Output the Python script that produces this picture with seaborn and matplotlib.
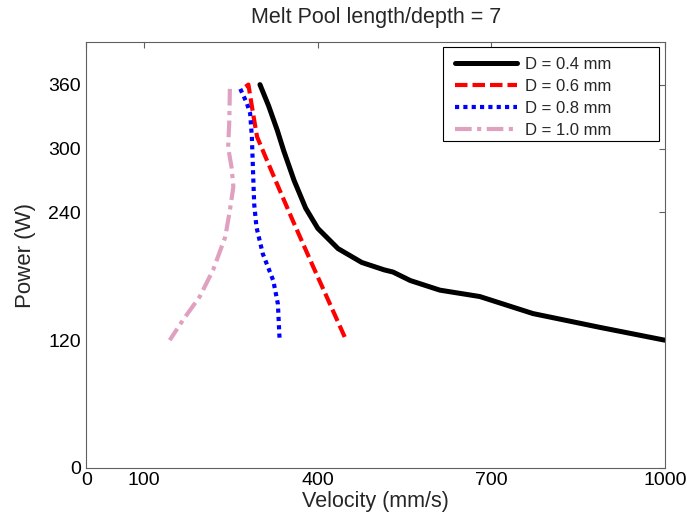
import matplotlib
matplotlib.use("Agg")
import matplotlib.pyplot as plt
from matplotlib.patches import Rectangle
import seaborn as sns
import pandas as pd

# ---- data ----
p_04 = [360, 340, 317, 298, 270, 244, 225, 206, 193, 186, 184, 176, 167, 161, 145, 132, 120]
v_04 = [300, 315, 330, 341, 359, 379, 400, 435, 476, 515, 530, 560, 611, 680, 772, 888, 1000]

p_06 = [358, 360, 333, 311, 289, 261, 232, 189, 154, 120]
v_06 = [275, 280, 288, 295, 312, 334, 357, 392, 421, 449]

p_08 = [356, 343, 333, 311, 279, 248, 226, 201, 176, 154, 120]
v_08 = [266, 277, 283, 286, 288, 290, 294, 305, 323, 331, 334]

p_10 = [356, 326, 301, 282, 264, 242, 217, 186, 161, 139, 120]
v_10 = [248, 247, 245, 251, 254, 248, 240, 219, 196, 167, 144]

labels = ["D = 0.4 mm", "D = 0.6 mm", "D = 0.8 mm", "D = 1.0 mm"]
x_ticks = [0, 100, 400, 700, 1000]
y_ticks = [0, 120, 240, 300, 360]

sns.set_style("white")
plt.rcParams["font.family"] = ["Liberation Sans", "DejaVu Sans"]

fig = plt.figure(figsize=(6.87, 5.24), dpi=100)
ax = fig.add_axes([0.1258, 0.1069, 0.8420, 0.8129])

series = [(v_04, p_04), (v_06, p_06), (v_08, p_08), (v_10, p_10)]
colors = ["#000000", "#ff0000", "#0000ff", "#e0a1c1"]
styles = ["-", (0, (3, 1.2)), (0, (1, 1)), (0, (4, 1.3, 1, 1.3))]
widths = [3.6, 3.0, 3.0, 3.0]

for (v, p), lab, c, ls, lw in zip(series, labels, colors, styles, widths):
    df = pd.DataFrame({"Velocity": v, "Power": p})
    sns.lineplot(data=df, x="Velocity", y="Power", sort=False, estimator=None,
                 ax=ax, color=c, linestyle=ls, linewidth=lw, label=lab,
                 dash_capstyle="butt")

ax.set_xlim(0, 1000)
ax.set_ylim(0, 400)
ax.set_xticks(x_ticks)
ax.set_yticks(y_ticks)
ax.tick_params(direction="in", length=4, width=0.8, top=True, right=True,
               labelsize=14, colors="#606060", labelcolor="black", pad=4)
ax.tick_params(axis="x", pad=3)
for s in ax.spines.values():
    s.set_color("#606060")
    s.set_linewidth(0.8)

ax.set_xlabel("Velocity (mm/s)", fontsize=15.5, labelpad=1)
ax.set_ylabel("Power (W)", fontsize=16, labelpad=9)
ax.set_title("Melt Pool length/depth = 7", fontsize=15.5, pad=14)

# legend box (MATLAB style, wider than its contents)
ax.add_patch(Rectangle((0.6163, 0.7676), 0.3733, 0.2207, transform=ax.transAxes,
                       facecolor="white", edgecolor="black", linewidth=0.8, zorder=4))
leg = ax.legend(loc="upper left", bbox_to_anchor=(0.637, 0.966),
                borderaxespad=0, borderpad=0, fontsize=12, handlelength=3.75,
                handletextpad=0.45, frameon=False, labelspacing=0.42)
leg.set_zorder(5)

fig.savefig("out.png", dpi=100)
